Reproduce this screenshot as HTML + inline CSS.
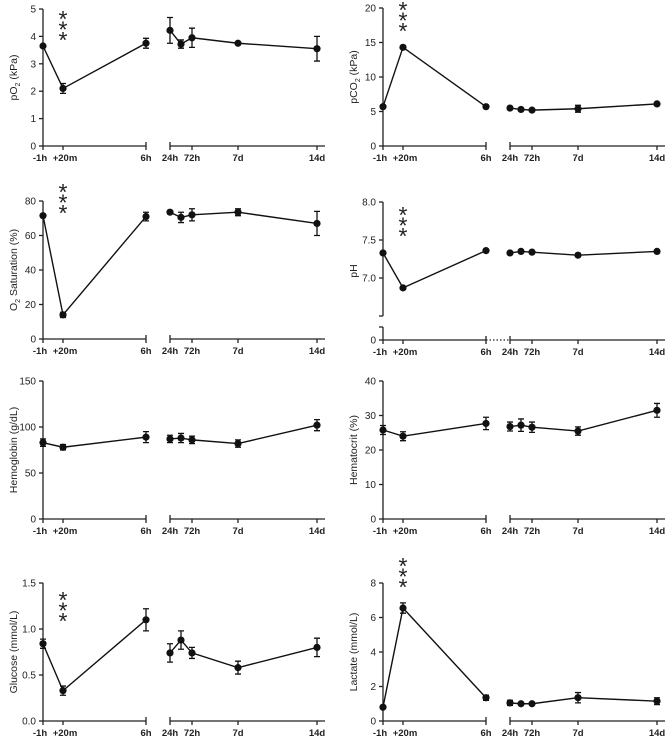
<!DOCTYPE html>
<html><head><meta charset="utf-8"><style>
body{margin:0;background:#fff}
svg{display:block;font-family:"Liberation Sans",Arial,sans-serif}
</style></head><body>
<svg id="c" width="667" height="742" viewBox="0 0 667 742"></svg>
<script>
const timeLabels=["-1h","+20m","6h","24h","48h","72h","7d","14d"];
const timeOffsets=[0,20,103,127,138,149,195,274];
const pO2Vals=[3.65,2.1,3.75,4.22,3.72,3.95,3.75,3.55];
const pO2Err=[0,0.18,0.18,0.47,0.15,0.35,0,0.45];
const pCO2Vals=[5.7,14.3,5.7,5.5,5.3,5.2,5.4,6.1];
const pCO2Err=[0,0,0,0,0,0,0.5,0];
const satVals=[71.5,14,71,73.5,70.5,72,73.5,67];
const satErr=[0,1.5,2.5,0,3,3.5,2,7];
const phVals=[7.33,6.87,7.36,7.33,7.35,7.34,7.30,7.35];
const phErr=[0,0,0,0,0,0,0,0];
const hbVals=[83,78,89,87,88,86,82,102];
const hbErr=[4,3,6,4,5,4,4,6];
const hctVals=[25.8,24,27.7,26.8,27.2,26.6,25.5,31.5];
const hctErr=[1.3,1.3,1.8,1.3,1.8,1.5,1.2,2];
const gluVals=[0.84,0.33,1.1,0.74,0.88,0.74,0.58,0.8];
const gluErr=[0.05,0.05,0.12,0.1,0.1,0.06,0.07,0.1];
const lacVals=[0.8,6.55,1.35,1.05,1.0,1.0,1.35,1.15];
const lacErr=[0,0.3,0.15,0.15,0,0,0.3,0.2];
const pO2Ticks=[0,1,2,3,4,5];
const pCO2Ticks=[0,5,10,15,20];
const satTicks=[0,20,40,60,80];
const phTicks=[7.0,7.5,8.0];
const hbTicks=[0,50,100,150];
const hctTicks=[0,10,20,30,40];
const gluTicks=[0.0,0.5,1.0,1.5];
const lacTicks=[0,2,4,6,8];

const NS="http://www.w3.org/2000/svg";
const svg=document.getElementById('c');
function mk(tag,attrs,parent,txt){const e=document.createElementNS(NS,tag);for(const k in attrs)e.setAttribute(k,attrs[k]);if(txt!==undefined)e.textContent=txt;(parent||svg).appendChild(e);return e;}

function panel(o){
  const g=mk('g',{});
  
  
  const x0=o.x0, top=o.top, zero=o.zero;
  const xs=i=>x0+timeOffsets[i];
  let ys;
  if(o.ph){ ys=v=>v<=0?zero:316-(v-6.5)*76; }
  else ys=v=>zero-(v/o.max)*(zero-top);
  const ln=(a,b,c,d,p,extra)=>{const l=mk('line',Object.assign({x1:a,y1:b,x2:c,y2:d,stroke:'#222','stroke-width':1.3},extra||{}),p);return l;};
  const ya=mk('g',{},g);
  
  
  if(o.ph){ ln(x0,top,x0,316,ya); ln(x0-4,316,x0,316,ya); ln(x0,327,x0,zero,ya); ln(x0-4,327,x0,327,ya);
    ln(x0-4,zero,x0,zero,ya);
    mk('text',{x:x0-7,y:zero+3.5,'text-anchor':'end','font-size':10,fill:'#222'},ya,'0');
  } else ln(x0,top,x0,zero,ya);
  o.ticks.forEach(t=>{const y=ys(t);ln(x0-4,y,x0,y,ya);
    const tx=mk('text',{x:x0-7,y:y+3.5,'text-anchor':'end','font-size':10,fill:'#222'},ya,o.fmt?t.toFixed(1):String(t));
    
    });
  const tt=mk('text',{x:0,y:0,'text-anchor':'middle','font-size':10.5,fill:'#222',transform:`translate(${x0-26},${(top+zero)/2}) rotate(-90)`},g);
  tt.innerHTML=o.title;
  
  
  const xa=mk('g',{},g);
  
  
  ln(x0,zero,xs(2),zero,xa); ln(xs(2),zero-4,xs(2),zero+4,xa);
  ln(xs(3),zero,x0+282,zero,xa); ln(xs(3),zero-4,xs(3),zero+4,xa);
  if(o.ph) ln(xs(2),zero,xs(3),zero,xa,{'stroke-dasharray':'1.5,2'});
  [0,1,5,6,7].forEach(i=>ln(xs(i),zero,xs(i),zero+4,xa));
  [0,1,2,3,5,6,7].forEach(i=>{const t=mk('text',{x:xs(i)+(i==0?-3:(i==1?2:0)),y:zero+15,'text-anchor':'middle','font-size':9.5,'font-weight':'bold',fill:'#222'},xa,timeLabels[i]);
    
    });
  const seg=(a,b)=>{let d='';for(let i=a;i<=b;i++)d+=(i==a?'M':'L')+xs(i)+','+ys(o.vals[i]);
    const p=mk('path',{d:d,fill:'none',stroke:'#111','stroke-width':1.4},g);
    
    };
  seg(0,2);seg(3,7);
  o.vals.forEach((v,i)=>{const e=o.err[i];
    if(e>0){const x=xs(i),y1=ys(v-e),y2=ys(v+e);
      const eb=mk('path',{d:`M${x},${y1}L${x},${y2}M${x-3},${y1}L${x+3},${y1}M${x-3},${y2}L${x+3},${y2}`,stroke:'#111','stroke-width':1.3,fill:'none'},g);
      
      }
    const c=mk('circle',{cx:xs(i),cy:ys(v),r:3.6,fill:'#111'},g);
    
    });
  if(o.star!==undefined){[0,1,2].forEach(k=>{const s=mk('text',{x:xs(1),y:o.star+3+k*10.5,'text-anchor':'middle','font-size':23,fill:'#222'},g,'*');
    
    });}
}
panel({name:'po2',x0:43,top:9,zero:146,max:5,ticks:pO2Ticks,vals:pO2Vals,err:pO2Err,title:'pO<tspan font-size="7" dy="3">2</tspan><tspan dy="-3"> (kPa)</tspan>',star:24});
panel({name:'pco2',x0:383,top:8,zero:146,max:20,ticks:pCO2Ticks,vals:pCO2Vals,err:pCO2Err,title:'pCO<tspan font-size="7" dy="3">2</tspan><tspan dy="-3"> (kPa)</tspan>',star:15});
panel({name:'o2-saturation',x0:43,top:201,zero:339,max:80,ticks:satTicks,vals:satVals,err:satErr,title:'O<tspan font-size="7" dy="3">2</tspan><tspan dy="-3"> Saturation (%)</tspan>',star:197});
panel({name:'ph',x0:383,top:202,zero:340,ph:true,fmt:true,ticks:phTicks,vals:phVals,err:phErr,title:'pH',star:220});
panel({name:'hemoglobin',x0:43,top:381,zero:519,max:150,ticks:hbTicks,vals:hbVals,err:hbErr,title:'Hemoglobin (g/dL)'});
panel({name:'hematocrit',x0:383,top:381,zero:519,max:40,ticks:hctTicks,vals:hctVals,err:hctErr,title:'Hematocrit (%)'});
panel({name:'glucose',x0:43,top:583,zero:721,max:1.5,fmt:true,ticks:gluTicks,vals:gluVals,err:gluErr,title:'Glucose (mmol/L)',star:605});
panel({name:'lactate',x0:383,top:583,zero:721,max:8,ticks:lacTicks,vals:lacVals,err:lacErr,title:'Lactate (mmol/L)',star:571});
</script>
</body></html>
